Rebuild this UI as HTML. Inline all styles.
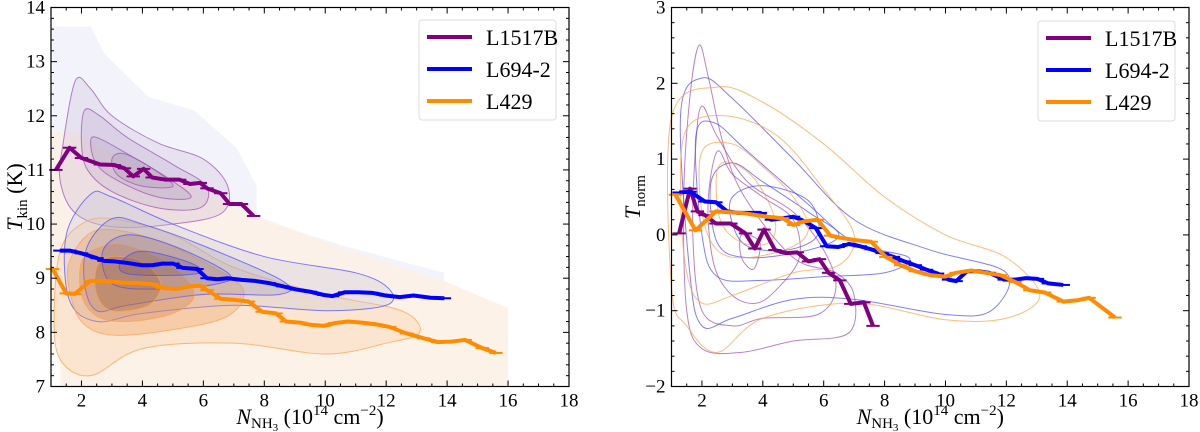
<!DOCTYPE html>
<html><head><meta charset="utf-8"><style>
body{margin:0;background:#fff;}
svg{display:block;}
svg text{font-family:"Liberation Serif","DejaVu Serif",serif;}
</style></head><body>
<svg id="chart" width="1200" height="432" viewBox="0 0 1200 432" xmlns="http://www.w3.org/2000/svg" font-family="Liberation Serif, serif"></svg>
<script>
// ---- data ----
const seriesNames = ["L1517B","L694-2","L429"];
const seriesColors = ["#800080","#0000ff","#ff8c00"];
const xTicks = [2,4,6,8,10,12,14,16,18];
const leftYTicks = [7,8,9,10,11,12,13,14];
const rightYTicks = [-2,-1,0,1,2,3];

const L1517B_x = [1.16,1.61,2.0,2.62,3.08,3.41,3.7,4.04,4.32,4.77,5.22,5.56,5.9,6.12,6.57,6.86,7.25,7.65];
const L1517B_tkin = [11.0,11.41,11.22,11.10,11.09,11.03,10.88,11.02,10.86,10.82,10.82,10.74,10.76,10.66,10.57,10.37,10.37,10.15];
const L694_x = [1.29,1.61,2.0,2.51,2.74,3.08,3.53,3.98,4.32,4.66,5.0,5.33,5.79,6.12,6.46,6.8,7.25,7.7,8.16,8.61,9.06,9.51,9.96,10.24,10.64,11.09,11.54,11.99,12.44,12.9,13.46,13.91];
const L694_tkin = [9.51,9.51,9.46,9.37,9.32,9.31,9.28,9.24,9.24,9.27,9.27,9.19,9.17,9.0,8.98,9.0,8.97,8.95,8.91,8.85,8.79,8.75,8.69,8.67,8.74,8.74,8.73,8.68,8.65,8.68,8.64,8.63];
const L429_x = [1.05,1.5,1.78,2.29,2.74,3.3,3.87,4.32,4.66,5.11,5.56,5.9,6.12,6.58,7.03,7.48,7.93,8.38,8.72,9.17,9.51,9.96,10.3,10.75,11.2,11.65,12.11,12.67,13.23,13.69,14.14,14.59,15.15,15.6];
const L429_tkin = [9.17,8.72,8.71,8.95,8.95,8.92,8.91,8.89,8.82,8.8,8.85,8.86,8.78,8.62,8.6,8.57,8.38,8.35,8.2,8.18,8.14,8.12,8.17,8.2,8.18,8.15,8.1,7.98,7.89,7.82,7.83,7.86,7.71,7.62];

const L1517B_nx = [1.25,1.61,1.85,2.1,2.46,2.95,3.43,3.74,4.04,4.4,4.77,5.13,5.5,5.86,6.16,6.53,6.89,7.32,7.62];
const L1517B_tnorm = [0.02,0.61,0.31,0.26,0.15,0.15,0.02,-0.18,0.07,-0.2,-0.24,-0.23,-0.35,-0.32,-0.5,-0.6,-0.91,-0.89,-1.2];
const L694_nx = [1.25,1.61,2.1,2.46,2.83,3.19,3.55,3.92,4.28,4.65,5.01,5.37,5.74,6.1,6.47,6.83,7.2,7.56,7.92,8.29,8.65,9.01,9.38,9.74,10.1,10.35,10.71,11.08,11.44,11.93,12.29,12.65,13.02,13.38,13.87];
const L694_tnorm = [0.56,0.57,0.44,0.43,0.31,0.29,0.29,0.29,0.2,0.22,0.24,0.18,0.09,-0.15,-0.16,-0.12,-0.15,-0.19,-0.24,-0.29,-0.35,-0.4,-0.46,-0.51,-0.59,-0.61,-0.48,-0.48,-0.5,-0.59,-0.59,-0.57,-0.58,-0.64,-0.66];
const L429_nx = [1.13,1.79,2.46,2.83,3.31,3.8,4.16,4.65,5.01,5.37,5.8,6.22,6.59,7.07,7.56,8.04,8.53,9.01,9.5,9.99,10.35,10.84,11.32,11.8,12.29,12.77,13.26,13.87,14.36,14.72,15.57];
const L429_tnorm = [0.53,0.06,0.31,0.30,0.29,0.26,0.24,0.22,0.13,0.18,0.20,-0.01,-0.04,-0.07,-0.09,-0.29,-0.4,-0.48,-0.53,-0.55,-0.5,-0.47,-0.5,-0.53,-0.62,-0.73,-0.76,-0.88,-0.86,-0.83,-1.09];

// ---- helpers ----
const NS="http://www.w3.org/2000/svg";
const FONT="Liberation Serif, DejaVu Serif, serif";
const svg=document.getElementById('chart');
function el(tag,attrs,parent){const e=document.createElementNS(NS,tag);for(const k in attrs)e.setAttribute(k,attrs[k]);if(tag==='text')e.setAttribute('font-family',FONT);(parent||svg).appendChild(e);return e;}
function makeAxes(x0,x1,y0,y1,xmin,xmax,ymin,ymax){
  return {x:v=>x0+(v-xmin)/(xmax-xmin)*(x1-x0), y:v=>y1-(v-ymin)/(ymax-ymin)*(y1-y0), x0,x1,y0,y1,xmin,xmax,ymin,ymax};
}
function smoothClosed(ax,pts){
  const P=pts.map(p=>[ax.x(p[0]),ax.y(p[1])]);const n=P.length;let d=`M${P[0][0]},${P[0][1]}`;
  for(let i=0;i<n;i++){const p0=P[(i-1+n)%n],p1=P[i],p2=P[(i+1)%n],p3=P[(i+2)%n];
    d+=` C${p1[0]+(p2[0]-p0[0])/6},${p1[1]+(p2[1]-p0[1])/6} ${p2[0]-(p3[0]-p1[0])/6},${p2[1]-(p3[1]-p1[1])/6} ${p2[0]},${p2[1]}`;}
  return d+'Z';
}
function poly(ax,pts){return 'M'+pts.map(p=>ax.x(p[0])+','+ax.y(p[1])).join(' L')+'Z';}

function drawFrame(ax,yTicks,yMinorStep,name){
  const g=el('g',{});
  
  
  el('rect',{x:ax.x0,y:ax.y0,width:ax.x1-ax.x0,height:ax.y1-ax.y0,fill:'none',stroke:'#000','stroke-width':1.2},g);
  for(let v=1;v<=18.001;v+=0.5){const X=ax.x(v);const major=Math.abs(v%2)<1e-6;const L=major?6:3;
    el('line',{x1:X,x2:X,y1:ax.y1,y2:ax.y1-L,stroke:'#000','stroke-width':1},g);
    el('line',{x1:X,x2:X,y1:ax.y0,y2:ax.y0+L,stroke:'#000','stroke-width':1},g);}
  for(let v=ax.ymin;v<=ax.ymax+1e-6;v+=yMinorStep){const Y=ax.y(v);const major=Math.abs(v-Math.round(v))<1e-6;const L=major?6:3;
    el('line',{x1:ax.x0,x2:ax.x0+L,y1:Y,y2:Y,stroke:'#000','stroke-width':1},g);
    el('line',{x1:ax.x1,x2:ax.x1-L,y1:Y,y2:Y,stroke:'#000','stroke-width':1},g);}
  xTicks.forEach(v=>{const t=el('text',{x:ax.x(v),y:ax.y1+20,'text-anchor':'middle','font-size':19},g);t.textContent=v;
    
    });
  yTicks.forEach(v=>{const t=el('text',{x:ax.x0-6,y:ax.y(v)+6,'text-anchor':'end','font-size':19},g);t.textContent=v<0?'\u2212'+(-v):v;
    
    });
  const xl=el('text',{x:(ax.x0+ax.x1)/2,y:424,'text-anchor':'middle','font-size':22},g);
  
  
  xl.innerHTML='<tspan font-style="italic">N</tspan><tspan font-size="15" dy="4">NH</tspan><tspan font-size="11" dy="3">3</tspan><tspan dy="-7"> (10</tspan><tspan font-size="15" dy="-9">14</tspan><tspan dy="9"> cm</tspan><tspan font-size="15" dy="-9">\u22122</tspan><tspan dy="9">)</tspan>';
}
function drawSeries(ax,xs,ys,color,name){
  const g=el('g',{});
  
  
  el('path',{d:'M'+xs.map((v,i)=>ax.x(v)+','+ax.y(ys[i])).join(' L'),fill:'none',stroke:color,'stroke-width':4,'stroke-linejoin':'round'},g);
  xs.forEach((v,i)=>{el('line',{x1:ax.x(v-0.22),x2:ax.x(v+0.22),y1:ax.y(ys[i]),y2:ax.y(ys[i]),stroke:color,'stroke-width':2},g);});
}
function drawLegend(x,y,name){
  const g=el('g',{});
  
  
  el('rect',{x:x,y:y,width:137,height:100,rx:3,fill:'#fff','fill-opacity':0.85,stroke:'#ddd'},g);
  seriesNames.forEach((n,i)=>{const yy=y+17+i*32;
    el('line',{x1:x+8,x2:x+53,y1:yy,y2:yy,stroke:seriesColors[i],'stroke-width':4},g);
    const t=el('text',{x:x+67,y:yy+8,'font-size':22},g);t.textContent=n;
    
    });
}
function contour(ax,pts,stroke,fill,fo,parent){el('path',{d:smoothClosed(ax,pts),fill:fill||'none','fill-opacity':fo||0,stroke:stroke,'stroke-width':1,'stroke-opacity':0.7},parent);}

// ---- left panel ----
const A=makeAxes(51,569,7.5,386.5,1,18,7,14);
const gl=el('g',{});


el('path',{d:poly(A,[[1.05,13.65],[2.3,13.65],[2.75,13.15],[4.2,12.35],[5.7,12.1],[7.1,11.4],[7.75,10.7],[7.75,10.1],[10.6,9.6],[13.9,9.1],[13.9,8.6],[1.05,8.6]]),fill:'#f3f4fb'},gl);
el('path',{d:poly(A,[[1,11.7],[1.8,11.7],[3,11.3],[4.5,11.0],[6,10.6],[7.5,10.2],[10.6,9.55],[13.9,8.95],[16,8.45],[16,7],[1.3,7],[1.3,7.9],[1,8]]),fill:'#fdf1e6','fill-opacity':0.9},gl);
const pc='#9b4fb0',bc='#4a4aff',oc='#ffa040';
contour(A,[[1.4,11.5],[1.8,12.65],[2.3,12.5],[3,12],[4.5,11.5],[6,11.2],[6.8,10.7],[6.6,10.2],[5,10],[3,9.95],[1.8,10.2],[1.3,10.8]],pc,'#b39ac8',0.2,gl);
contour(A,[[2.0,11.5],[2.1,12.1],[2.6,12.0],[3.5,11.6],[5,11.1],[6.1,10.7],[5.9,10.3],[4.5,10.3],[3,10.6],[2.2,11]],pc,'#a88fc0',0.2,gl);
contour(A,[[2.3,11.5],[2.5,11.6],[3.5,11.3],[4.7,10.9],[5.6,10.5],[4.5,10.5],[3.2,10.8],[2.5,11.1]],pc,'#a08ab8',0.2,gl);
contour(A,[[3,11.2],[3.4,11.3],[4.4,11],[5,10.7],[4,10.7],[3.2,10.9]],pc,'#9880b0',0.2,gl);
contour(A,[[1.3,9.5],[2,10],[3,10.1],[5,9.8],[7,9.2],[10,8.7],[12.5,8.4],[13.1,8.0],[12,7.8],[10,7.6],[7,7.8],[4,7.7],[2.3,7.2],[1.3,7.5],[1.1,8.3]],oc,'#f8c898',0.3,gl);
contour(A,[[1.5,9.8],[2.3,10.55],[3,10.5],[5,10],[8,9.4],[11,9.1],[12.1,8.8],[12,8.5],[10,8.4],[7,8.5],[4,8.35],[2.5,8.2],[1.6,8.6]],bc,'#c0c0d8',0.3,gl);
contour(A,[[1.6,9.3],[2.2,9.8],[3,9.9],[4.5,9.7],[6,9.3],[7.3,8.8],[6.8,8.3],[5,8.05],[3,7.95],[2,8.2],[1.6,8.8]],oc,'#f0a060',0.35,gl);
contour(A,[[2.2,9.6],[3,10.1],[4,10],[6,9.6],[8.6,8.95],[8.5,8.7],[6,8.7],[3.5,8.5],[2.5,8.4],[2.1,8.9]],bc,'#a09ab8',0.3,gl);
contour(A,[[2,9.3],[2.5,9.55],[3.5,9.6],[5,9.2],[5.7,8.7],[5,8.35],[3.5,8.2],[2.5,8.3],[2,8.7]],oc,'#d08050',0.35,gl);
contour(A,[[2.7,9.5],[3.5,9.8],[5,9.6],[6.8,9.1],[6.5,8.9],[4.5,8.8],[3,8.9]],bc,'#8a7a98',0.3,gl);
contour(A,[[2.5,9.2],[3,9.4],[4,9.3],[4.6,8.9],[4.2,8.5],[3,8.4],[2.5,8.7]],oc,'#a06040',0.35,gl);
contour(A,[[3.3,9.3],[4,9.5],[5.5,9.3],[5.9,9.1],[4.5,9.05],[3.4,9.1]],bc,'#705868',0.3,gl);
drawSeries(A,L1517B_x,L1517B_tkin,seriesColors[0],'left-series-l1517b');
drawSeries(A,L694_x,L694_tkin,seriesColors[1],'left-series-l694-2');
drawSeries(A,L429_x,L429_tkin,seriesColors[2],'left-series-l429');
drawFrame(A,leftYTicks,0.2,'left');
drawLegend(419,20,'left-legend');
const yl=el('text',{transform:'translate(22,197) rotate(-90)','text-anchor':'middle','font-size':22});


yl.innerHTML='<tspan font-style="italic">T</tspan><tspan font-size="15" dy="5">kin</tspan><tspan dy="-5"> (K)</tspan>';

// ---- right panel ----
const B=makeAxes(671.5,1189,7.5,386.5,1,18,-2,3);
const gr=el('g',{});


[[[1.9,2.5],[2.2,2.1],[2.7,1.2],[3.4,0.5],[5,-0.3],[6.4,-0.5],[7,-0.8],[6.8,-1.3],[5,-1.4],[3.3,-1.55],[2,-1.5],[1.5,-1],[1.4,0.5],[1.6,1.8]],
 [[2,1.7],[2.5,1.3],[3.5,0.7],[5,0.3],[6,-0.2],[6.4,-0.7],[5.8,-1.05],[4,-1.1],[3,-1.2],[2,-1],[1.7,0],[1.8,1.2]],
 [[2.5,1.1],[3,0.8],[4,0.5],[5,0.2],[5.2,-0.3],[4.5,-0.7],[3.8,-0.9],[3,-0.8],[2.4,-0.4],[2.2,0.4]],
 [[3.3,0.0],[3.9,-0.1],[3.7,-0.45],[3.3,-0.3]]].forEach(p=>contour(B,p,pc,null,0,gr));
[[[1.3,1.6],[2,2.07],[3,1.8],[5,1.0],[7,0.2],[9.5,-0.2],[12,-0.5],[11.5,-1.0],[10,-1.05],[7,-0.85],[5,-0.85],[3,-1.1],[2,-1.2],[1.6,-0.5]],
 [[1.8,1.3],[2.4,1.48],[3.5,1.1],[5.5,0.4],[7,-0.1],[8.8,-0.3],[8,-0.5],[6,-0.55],[4,-0.6],[2.5,-0.55],[2,0]],
 [[2.3,0.7],[3,0.95],[4,0.7],[5.5,0.3],[6.5,0],[5.5,-0.2],[3.5,-0.3],[2.5,-0.1]],
 [[3,0.5],[4,0.65],[5.5,0.45],[5.8,0],[4.8,-0.2],[3.5,-0.15],[3,0.15]]].forEach(p=>contour(B,p,bc,null,0,gr));
[[[1,1.55],[2.5,1.95],[4,1.75],[6,1.2],[8,0.5],[10,0],[12,-0.3],[13.1,-0.8],[12,-1.1],[10,-1.12],[7,-0.9],[4,-1.1],[2.5,-1.55],[1.5,-1.2],[1,-0.7]],
 [[1.5,1.4],[2.8,1.57],[4.5,1.3],[6,0.6],[7,0],[6.5,-0.4],[5,-0.5],[3,-0.8],[2,-0.9],[1.5,-0.5],[1.3,0.5]],
 [[2,1.1],[3,1.2],[4,0.9],[5,0.5],[5.5,0.1],[5,-0.15],[3.5,-0.3],[2.5,-0.2],[2,0.3]],
 [[2.5,0.85],[3,0.95],[3.8,0.7],[4.4,0.2],[4.2,-0.1],[3.3,-0.1],[2.6,0.2]]].forEach(p=>contour(B,p,oc,null,0,gr));
drawSeries(B,L1517B_nx,L1517B_tnorm,seriesColors[0],'right-series-l1517b');
drawSeries(B,L694_nx,L694_tnorm,seriesColors[1],'right-series-l694-2');
drawSeries(B,L429_nx,L429_tnorm,seriesColors[2],'right-series-l429');
drawFrame(B,rightYTicks,0.2,'right');
drawLegend(1038,21,'right-legend');
const yr=el('text',{transform:'translate(640,197) rotate(-90)','text-anchor':'middle','font-size':22});


yr.innerHTML='<tspan font-style="italic">T</tspan><tspan font-size="15" dy="5">norm</tspan>';
</script>
</body></html>
